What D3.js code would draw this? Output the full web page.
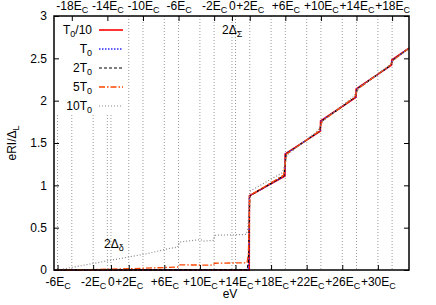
<!DOCTYPE html>
<html>
<head>
<meta charset="utf-8">
<script src="https://d3js.org/d3.v7.min.js"></script>
<style>
  body { margin: 0; background: #fff; }
  text { font-family: "Liberation Sans", Arial, sans-serif; }
</style>
</head>
<body>
<svg id="chart" width="436" height="305"></svg>
<script>
// bottom axis ticks (units of E_C) and top axis ticks
var bottomTicks = [-6, -2, 0, 2, 6, 10, 14, 18, 22, 26, 30];
var topTicks = [-18, -14, -10, -6, -2, 0, 2, 6, 10, 14, 18];
var yTicks = [0, 0.5, 1, 1.5, 2, 2.5, 3];

var seriesNames = [["T", "0", "/10"], ["T", "0", ""], ["2T", "0", ""], ["5T", "0", ""], ["10T", "0", ""]];

// curves: [E in E_C, eRI/Delta_L]
var curveT0over10 = [[-6.4, 0], [15.54, 0], [15.56, 0.877], [19.56, 1.11], [19.58, 1.37], [23.54, 1.64], [23.56, 1.76],
  [27.54, 2.04], [27.56, 2.14], [31.54, 2.42], [31.56, 2.48], [33.5, 2.62]];
var curveT0 = [[-6.4, 0], [15.4, 0.002], [15.5, 0.1], [15.56, 0.86], [15.65, 0.88], [19.52, 1.11], [19.62, 1.37], [23.5, 1.64], [23.62, 1.76],
  [27.5, 2.04], [27.62, 2.14], [31.5, 2.42], [31.62, 2.48], [33.5, 2.62]];
var curve2T0 = [[-6.4, 0], [7.5, 0.002], [15.3, 0.004], [15.45, 0.1], [15.6, 0.86], [15.75, 0.885], [19.45, 1.115], [19.7, 1.37], [23.45, 1.64], [23.7, 1.76],
  [27.45, 2.04], [27.7, 2.14], [31.45, 2.42], [31.7, 2.48], [33.5, 2.62]];
var curve5T0 = [[-6.4, 0], [-2, 0.005], [2, 0.015], [7.5, 0.035], [7.65, 0.06], [11.5, 0.058], [11.65, 0.08], [15.3, 0.085],
  [15.45, 0.2], [15.6, 0.87], [15.8, 0.89], [19.4, 1.12], [19.75, 1.37], [23.4, 1.64], [23.75, 1.76],
  [27.4, 2.04], [27.75, 2.14], [31.4, 2.42], [31.75, 2.48], [33.5, 2.62]];
var curve10T0 = [[-6.4, 0], [-6.0, 0], [4.4, 0.2], [6.3, 0.25], [7.5, 0.27], [7.7, 0.33], [10.1, 0.36], [10.4, 0.34], [11.5, 0.35],
  [11.7, 0.41], [15.2, 0.42], [15.4, 0.5], [15.6, 0.93], [19.3, 1.15], [19.8, 1.36], [23.3, 1.65], [23.8, 1.76],
  [27.3, 2.05], [27.8, 2.14], [31.3, 2.42], [31.8, 2.48], [33.5, 2.62]];

var curves = [curveT0over10, curveT0, curve2T0, curve5T0, curve10T0];
var colors = ["#ff0000", "#2a2aff", "#000000", "#ff4500", "#888888"];
var dashes = [null, "1.5,1.5", "3,2", "6,2,1.5,2", "1,2"];
var widths = [1.6, 1.3, 1.2, 1.3, 1.2];

var svg = d3.select("#chart");
var pL = 54, pR = 409, pT = 16, pB = 270;

var x = d3.scaleLinear().domain([-6.4, 33.5]).range([pL, pR]);
var x2 = d3.scaleLinear().domain([-20.0, 19.9]).range([pL, pR]);
var y = d3.scaleLinear().domain([0, 3]).range([pB, pT]);

function subText(sel, main, sub, tail) {
  sel.text(null);
  sel.append("tspan").text(main);
  if (sub) sel.append("tspan").attr("dy", 3).attr("font-size", "9px").text(sub);
  if (tail) sel.append("tspan").attr("dy", -3).text(tail);
}
function ecLabel(v) {
  if (v == 0) return ["0", ""];
  return [(v > 0 ? "+" : "") + v + "E", "C"];
}

// vertical grid for both x axes
var gridVals = bottomTicks.map(function(d){ return x(d); })
  .concat(topTicks.map(function(d){ return x2(d); }));
svg.append("g").selectAll("line")
  .data(gridVals)
  .enter().append("line")
  .attr("x1", function(d){ return d; }).attr("x2", function(d){ return d; })
  .attr("y1", pT).attr("y2", pB)
  .attr("stroke", "#9a9a9a")
  .attr("stroke-width", 1)
  .attr("stroke-dasharray", "1,2");

// legend background hides grid
svg.append("rect").attr("x", pL).attr("y", pT).attr("width", 72).attr("height", 99).attr("fill", "#fff");

// curves
var line = d3.line().x(function(d){ return x(d[0]); }).y(function(d){ return y(d[1]); });
svg.append("g").selectAll("path")
  .data(curves)
  .enter().append("path")
  .attr("d", line)
  .attr("fill", "none")
  .attr("stroke", function(d, i){ return colors[i]; })
  .attr("stroke-width", function(d, i){ return widths[i]; })
  .attr("stroke-dasharray", function(d, i){ return dashes[i]; });

// axes
var gB = svg.append("g").attr("transform", "translate(0," + pB + ")")
  .call(d3.axisBottom(x).tickValues(bottomTicks).tickSize(-5).tickPadding(7));
gB.selectAll(".tick text").each(function(d){ var l = ecLabel(d); subText(d3.select(this), l[0], l[1]); });
var gT = svg.append("g").attr("transform", "translate(0," + pT + ")")
  .call(d3.axisTop(x2).tickValues(topTicks).tickSize(-5).tickPadding(6));
gT.selectAll(".tick text").each(function(d){ var l = ecLabel(d); subText(d3.select(this), l[0], l[1]); });
svg.append("g").attr("transform", "translate(" + pL + ",0)")
  .call(d3.axisLeft(y).tickValues(yTicks).tickSize(-5).tickPadding(7).tickFormat(d3.format("")));
svg.append("g").attr("transform", "translate(" + pR + ",0)")
  .call(d3.axisRight(y).tickValues(yTicks).tickSize(-5).tickFormat(""));
svg.selectAll(".domain").remove();
svg.selectAll(".tick line").attr("stroke", "#000");
svg.selectAll(".tick text").attr("font-size", "12px").attr("fill", "#000").style("font-family", "Liberation Sans, Arial, sans-serif");

svg.append("rect").attr("x", pL).attr("y", pT).attr("width", pR - pL).attr("height", pB - pT)
  .attr("fill", "none").attr("stroke", "#000").attr("stroke-width", 1.5);

// legend
var leg = svg.append("g").selectAll("g")
  .data(seriesNames)
  .enter().append("g")
  .attr("transform", function(d, i){ return "translate(0," + (30 + i * 19) + ")"; });
leg.append("text")
  .attr("x", 92).attr("y", 4)
  .attr("text-anchor", "end")
  .attr("font-size", "12px")
  .each(function(d){ subText(d3.select(this), d[0], d[1], d[2]); });
leg.append("line")
  .attr("x1", 99).attr("x2", 123).attr("y1", 0).attr("y2", 0)
  .attr("stroke", function(d, i){ return colors[i]; })
  .attr("stroke-width", function(d, i){ return widths[i]; })
  .attr("stroke-dasharray", function(d, i){ return dashes[i]; });

// annotations and axis titles
svg.append("text").attr("x", 222).attr("y", 34).attr("font-size", "12px")
  .each(function(){ subText(d3.select(this), "2Δ", "Σ"); });
svg.append("text").attr("x", 104).attr("y", 248).attr("font-size", "12px")
  .each(function(){ subText(d3.select(this), "2Δ", "δ"); });
svg.append("text").attr("x", 230).attr("y", 298).attr("text-anchor", "middle").attr("font-size", "12px").text("eV");
svg.append("text").attr("transform", "translate(16,143) rotate(-90)").attr("text-anchor", "middle").attr("font-size", "12px")
  .each(function(){ subText(d3.select(this), "eRI/Δ", "L"); });
</script>
</body>
</html>
